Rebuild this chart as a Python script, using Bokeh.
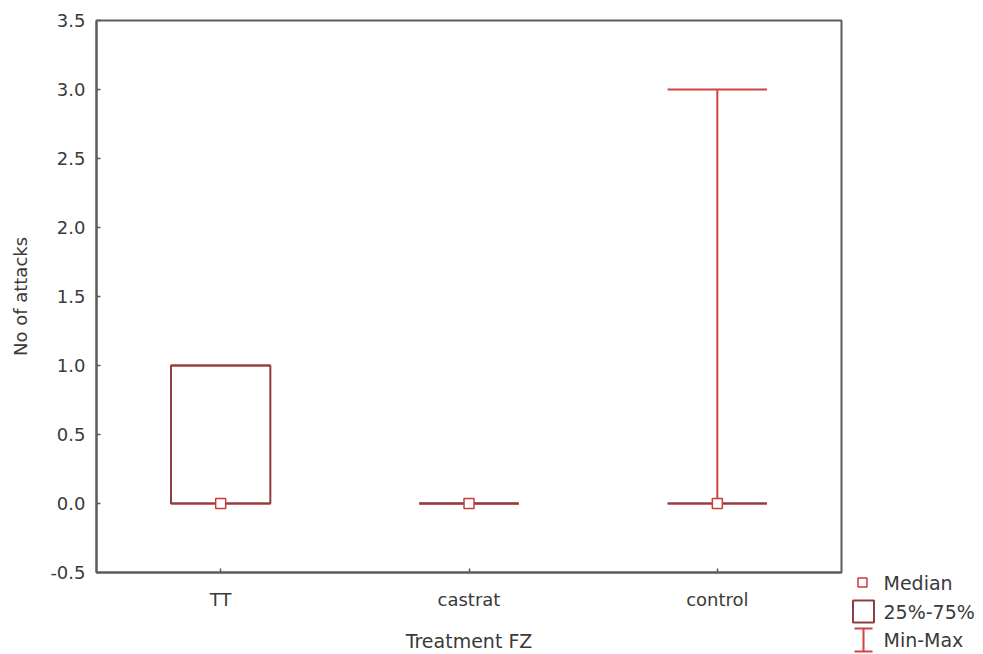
from bokeh.plotting import figure
from bokeh.models import (ColumnDataSource, FactorRange, Range1d, FixedTicker,
                          NumeralTickFormatter, Spacer)
from bokeh.layouts import row, column
from bokeh.transform import dodge
from bokeh.core.properties import value
from bokeh.embed import file_html
from bokeh.resources import INLINE

# ---- data ----
categories = ["TT", "castrat", "control"]
medians = [0, 0, 0]
q1 = [0, 0, 0]
q3 = [1, 0, 0]
mins = [0, 0, 0]
maxs = [1, 0, 3]
y_ticks = [-0.5, 0.0, 0.5, 1.0, 1.5, 2.0, 2.5, 3.0, 3.5]
legend_labels = ["Median", "25%-75%", "Min-Max"]

FONT = "DejaVu Sans"
TXT = "#3a3a3a"
AX = "#5c5c5c"
BOX = "#8e3e3e"
WHIS = "#cc4444"
MED = "#cc3b3b"

src = ColumnDataSource(dict(cat=categories, med=medians, q1=q1, q3=q3,
                            lo=mins, hi=maxs))

p = figure(x_range=FactorRange(*categories, range_padding=0),
           y_range=Range1d(-0.5, 3.5),
           width=844, height=654, output_backend="svg", toolbar_location=None,
           min_border_left=96, min_border_top=20, min_border_right=3,
           min_border_bottom=81)
p.background_fill_color = "white"
p.border_fill_color = "white"
p.grid.visible = False
p.outline_line_color = AX
p.outline_line_width = 2

# whiskers (box edge to extreme)
p.segment(x0="cat", y0="q3", x1="cat", y1="hi", source=src,
          line_color=WHIS, line_width=2)
p.segment(x0="cat", y0="lo", x1="cat", y1="q1", source=src,
          line_color=WHIS, line_width=2)
p.segment(x0=dodge("cat", -0.2, range=p.x_range), y0="hi",
          x1=dodge("cat", 0.2, range=p.x_range), y1="hi", source=src,
          line_color=WHIS, line_width=2)
p.segment(x0=dodge("cat", -0.2, range=p.x_range), y0="lo",
          x1=dodge("cat", 0.2, range=p.x_range), y1="lo", source=src,
          line_color=WHIS, line_width=2)
# boxes
p.vbar(x="cat", width=0.4, bottom="q1", top="q3", source=src,
       fill_color=None, line_color=BOX, line_width=2)
# medians
p.scatter(x="cat", y="med", source=src, marker="square", size=10,
          fill_color="white", line_color=MED, line_width=1.5)

# axes
for ax in (p.xaxis[0], p.yaxis[0]):
    ax.axis_line_color = AX
    ax.axis_line_width = 2
    ax.major_tick_line_color = AX
    ax.major_tick_line_width = 1.5
    ax.major_tick_in = 4
    ax.major_tick_out = 0
    ax.minor_tick_line_color = None
    ax.major_label_text_font = FONT
    ax.major_label_text_font_size = "18px"
    ax.major_label_text_color = TXT
    ax.axis_label_text_font = FONT
    ax.axis_label_text_font_size = "18px"
    ax.axis_label_text_font_style = "normal"
    ax.axis_label_text_color = TXT

p.yaxis.ticker = FixedTicker(ticks=y_ticks)
p.yaxis.formatter = NumeralTickFormatter(format="0.0")
p.yaxis.major_label_standoff = 11
p.yaxis.axis_label = "No of attacks"
p.yaxis.axis_label_standoff = 16
p.xaxis.major_label_standoff = 16
p.xaxis.axis_label = "Treatment FZ"
p.xaxis.axis_label_text_font_size = "19px"
p.xaxis.axis_label_standoff = 17

# ---- legend panel ----
LW, LH = 139, 90
lg = figure(width=LW, height=LH, x_range=Range1d(0, LW), y_range=Range1d(0, LH),
            output_backend="svg", toolbar_location=None,
            min_border=0, outline_line_color=None)
lg.axis.visible = False
lg.grid.visible = False
lg.background_fill_color = "white"
lg.border_fill_color = "white"

lg.scatter(x=[18], y=[72], marker="square", size=9, fill_color="white",
           line_color=MED, line_width=1.5)
lg.rect(x=[19], y=[43], width=21, height=22, fill_color=None,
        line_color=BOX, line_width=2)
lg.segment(x0=[19, 10, 10], y0=[26, 26, 3], x1=[19, 28, 28], y1=[3, 26, 3],
           line_color=WHIS, line_width=2)
lg.text(x=[39, 39, 39], y=[72, 43, 15], text=legend_labels,
        text_font=value(FONT), text_font_size="19px", text_color=TXT,
        text_baseline="middle", text_align="left")

layout = row(p, column(Spacer(width=LW, height=654 - LH), lg))

open("out.html", "w").write(file_html(layout, INLINE))
